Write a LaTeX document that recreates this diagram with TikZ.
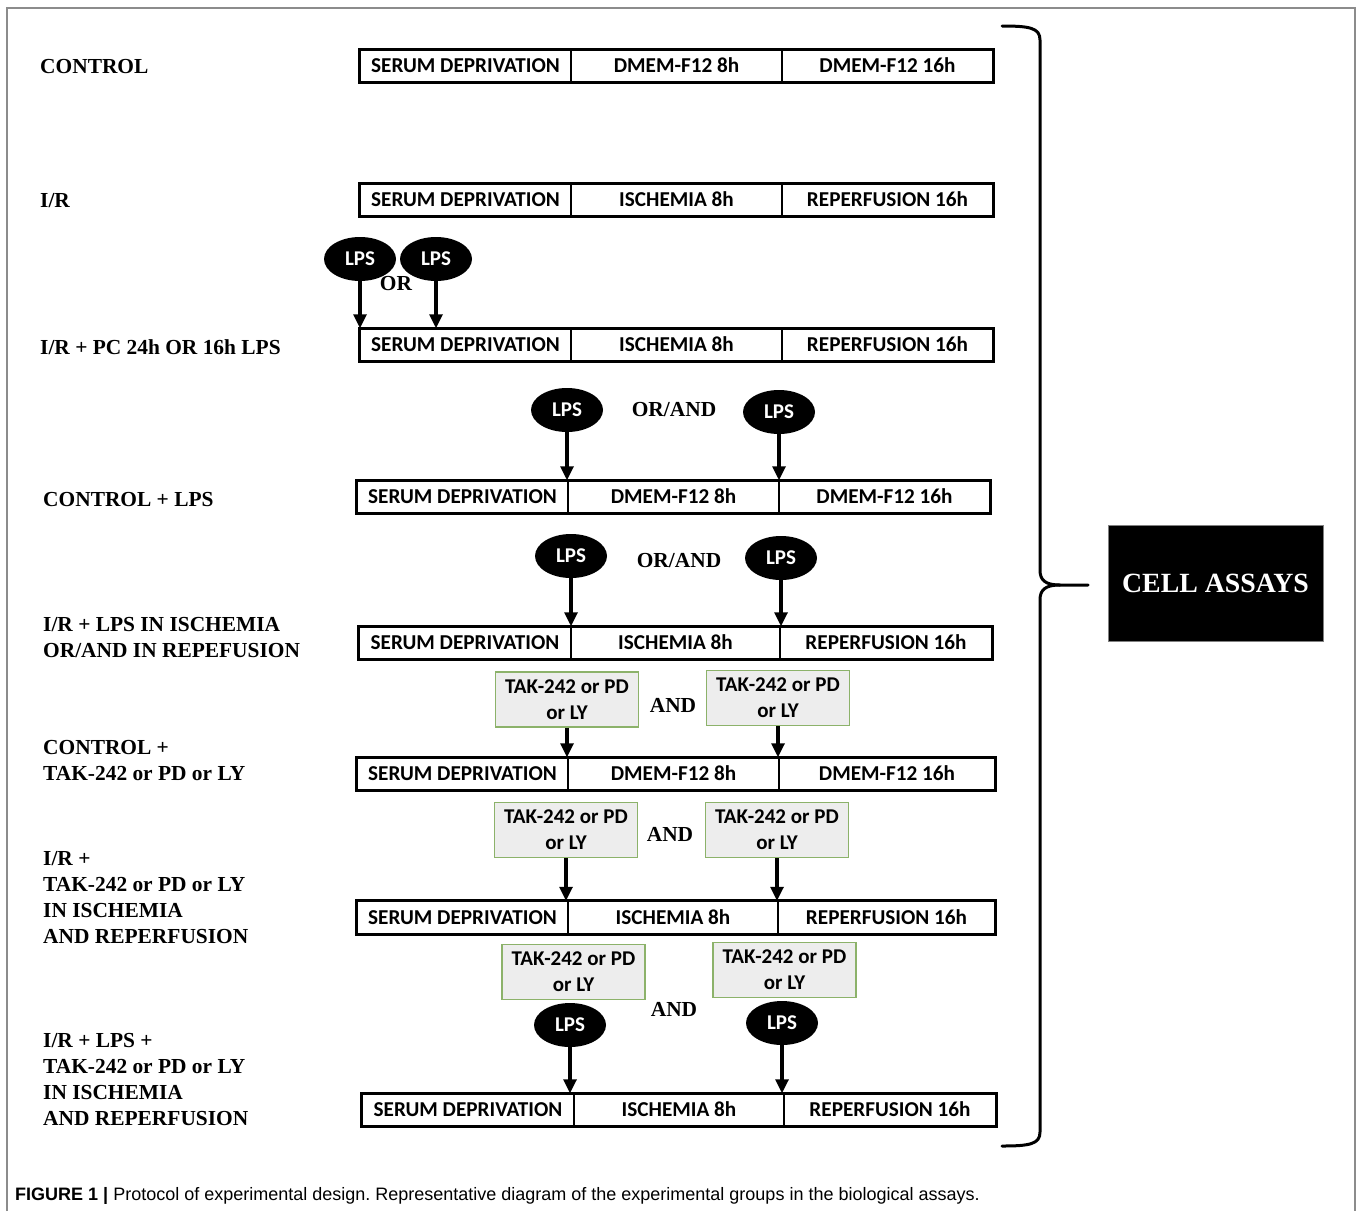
\documentclass[tikz,border=0pt]{standalone}
\usepackage{fontspec}
\setmainfont{Liberation Serif}
\newfontfamily\calfont{Carlito}
\newfontfamily\capfont{Liberation Sans}
\usetikzlibrary{arrows.meta,shapes.geometric}
\definecolor{takfill}{HTML}{EDEDED}
\definecolor{takdraw}{HTML}{8CB26A}
\definecolor{framegray}{HTML}{8C8C8C}
\frenchspacing
\newcommand\stagebar[9]{%
  \pgfmathsetmacro\sbwa{#3-#2}\pgfmathsetmacro\sbwb{#4-#3}\pgfmathsetmacro\sbwc{#5-#4}%
  \node[cell,minimum width=\sbwa pt] (#1a) at ({(#2+#3)/2},#6) {#7};
  \node[cell,minimum width=\sbwb pt] (#1b) at ({(#3+#4)/2},#6) {#8};
  \node[cell,minimum width=\sbwc pt] (#1c) at ({(#4+#5)/2},#6) {#9};
  \draw[barframe] (#1a.north west) rectangle (#1c.south east);
}
\begin{document}
\begin{tikzpicture}[x=1pt,y=-1pt,
  cell/.style={draw,line width=1.5pt,inner sep=0pt,minimum height=32pt,
    text height=13.6pt,text depth=0pt,
    font=\calfont\bfseries\fontsize{21.2}{25}\selectfont},
  barframe/.style={line width=2.6pt},
  lab/.style={anchor=west,align=left,inner sep=0pt,
    font=\bfseries\fontsize{21.4}{26}\selectfont},
  conj/.style={inner sep=0pt,font=\bfseries\fontsize{21.4}{26}\selectfont},
  lps/.style={ellipse,fill=black,inner sep=0pt,minimum width=72pt,minimum height=44pt,
    text height=13.6pt,text depth=0pt,
    text=white,font=\calfont\bfseries\fontsize{21}{25}\selectfont},
  tak/.style={draw=takdraw,fill=takfill,line width=1.2pt,inner sep=0pt,align=center,
    minimum width=143pt,minimum height=55pt,
    font=\calfont\bfseries\fontsize{21}{26}\selectfont},
  arr/.style={line width=3.2pt,-{Triangle[length=14pt,width=13pt]}},
  brace/.style={line width=3pt,line cap=round,line join=round}
]
\useasboundingbox (0,0) rectangle (1357,1211);
% frame
\draw[framegray,line width=1.5pt] (7,1211) -- (7,8) -- (1355,8) -- (1355,1211);

% stage bars
\stagebar{ra}{360}{571}{782}{993}{66}{SERUM DEPRIVATION}{DMEM-F12 8h}{DMEM-F12 16h}
\stagebar{rb}{360}{571}{782}{993}{200}{SERUM DEPRIVATION}{ISCHEMIA 8h}{REPERFUSION 16h}
\stagebar{rc}{360}{571}{782}{993}{345}{SERUM DEPRIVATION}{ISCHEMIA 8h}{REPERFUSION 16h}
\stagebar{rd}{357}{568}{779}{990}{497}{SERUM DEPRIVATION}{DMEM-F12 8h}{DMEM-F12 16h}
\stagebar{re}{359}{571}{780}{992}{643}{SERUM DEPRIVATION}{ISCHEMIA 8h}{REPERFUSION 16h}
\stagebar{rf}{357}{568}{779}{995}{774}{SERUM DEPRIVATION}{DMEM-F12 8h}{DMEM-F12 16h}
\stagebar{rg}{357}{568}{778}{995}{917.5}{SERUM DEPRIVATION}{ISCHEMIA 8h}{REPERFUSION 16h}
\stagebar{rh}{362}{574}{784}{996}{1110}{SERUM DEPRIVATION}{ISCHEMIA 8h}{REPERFUSION 16h}

% left labels
\node[lab] (la) at (40,67) {CONTROL};
\node[lab] (lb) at (40,201) {I/R};
\node[lab] (lc) at (40,347) {I/R + PC 24h OR 16h LPS};
\node[lab] (ld) at (43,500) {CONTROL + LPS};
\node[lab] (le) at (43,638) {I/R + LPS IN ISCHEMIA\\OR/AND IN REPEFUSION};
\node[lab] (lf) at (43,761) {CONTROL +\\TAK-242 or PD or LY};
\node[lab] (lg) at (43,898) {I/R +\\TAK-242 or PD or LY\\IN ISCHEMIA\\AND REPERFUSION};
\node[lab] (lh) at (43,1079.5) {I/R + LPS +\\TAK-242 or PD or LY\\IN ISCHEMIA\\AND REPERFUSION};

% row c : LPS OR LPS
\node[lps] (c1) at (360,259) {LPS};
\node[lps] (c2) at (436,259) {LPS};
\node[conj] (cor) at (396,284) {OR};
\draw[arr] (c1.south) -- (c1.south |- rca.north);
\draw[arr] (c2.south) -- (c2.south |- rca.north);

% row d
\node[lps] (d1) at (567,410) {LPS};
\node[lps] (d2) at (779,412) {LPS};
\node[conj] (dor) at (674,410) {OR/AND};
\draw[arr] (d1.south) -- (d1.south |- rda.north);
\draw[arr] (d2.south) -- (d2.south |- rda.north);

% row e
\node[lps] (e1) at (571,556) {LPS};
\node[lps] (e2) at (781,558) {LPS};
\node[conj] (eor) at (679,561) {OR/AND};
\draw[arr] (e1.south) -- (e1.south |- rea.north);
\draw[arr] (e2.south) -- (e2.south |- rea.north);

% row f
\node[tak] (f1) at (567,699.5) {TAK-242 or PD\\or LY};
\node[tak] (f2) at (778,698) {TAK-242 or PD\\or LY};
\node[conj] (fand) at (673,705) {AND};
\draw[arr] (f1.south) -- (f1.south |- rfa.north);
\draw[arr] (f2.south) -- (f2.south |- rfa.north);

% row g
\node[tak] (g1) at (566,830) {TAK-242 or PD\\or LY};
\node[tak] (g2) at (777,830) {TAK-242 or PD\\or LY};
\node[conj] (gand) at (670,834) {AND};
\draw[arr] (g1.south) -- (g1.south |- rga.north);
\draw[arr] (g2.south) -- (g2.south |- rga.north);

% row h
\node[tak] (h1) at (573.5,972) {TAK-242 or PD\\or LY};
\node[tak] (h2) at (784.5,970) {TAK-242 or PD\\or LY};
\node[lps] (h3) at (570,1025) {LPS};
\node[lps] (h4) at (782,1023) {LPS};
\node[conj] (hand) at (674,1009) {AND};
\draw[arr] (h3.south) -- (h3.south |- rha.north);
\draw[arr] (h4.south) -- (h4.south |- rha.north);

% brace
\draw[brace] (1002,26) .. controls (1030,26) and (1040,28) .. (1040,40) -- (1040,570)
  .. controls (1040,580) and (1045,585) .. (1060,585);
\draw[brace] (1002,1146) .. controls (1030,1146) and (1040,1144) .. (1040,1132) -- (1040,600)
  .. controls (1040,590) and (1045,585) .. (1060,585) -- (1088,585);
\coordinate (bracetip) at (1088,585);

% cell assays
\node[fill=black,draw=gray,line width=0.6pt,minimum width=215pt,minimum height=116pt,inner sep=0pt,
  text=white,font=\bfseries\fontsize{27.8}{30}\selectfont] (assay) at (1215.5,583) {CELL ASSAYS};

% caption
\node[anchor=base west,inner sep=0pt,font=\capfont\fontsize{18}{21}\selectfont] (cap) at (15,1200)
  {\textbf{FIGURE 1 |} Protocol of experimental design. Representative diagram of the experimental groups in the biological assays.};
\end{tikzpicture}
\end{document}
